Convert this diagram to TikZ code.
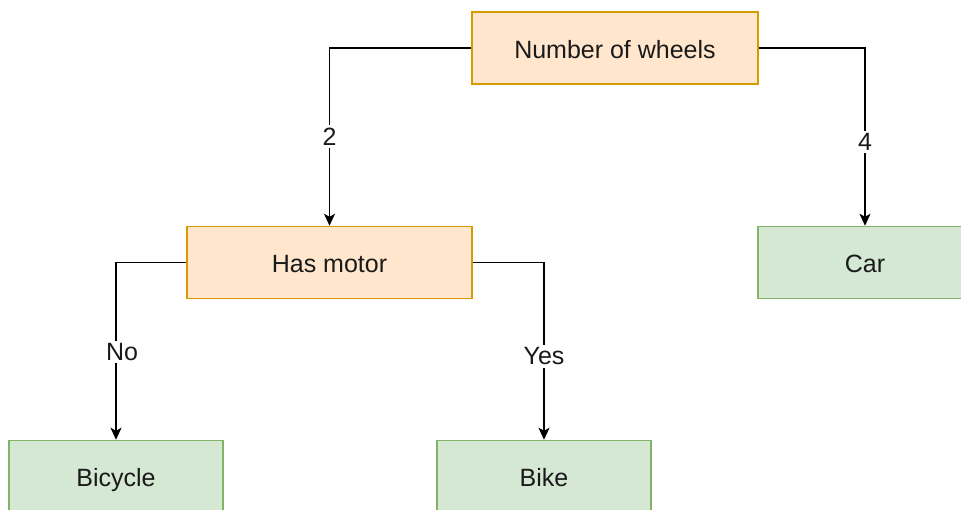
\documentclass[tikz,border=0pt]{standalone}
\usepackage{fontspec}
\setmainfont{Liberation Sans}
\usetikzlibrary{arrows.meta}
\definecolor{orfill}{HTML}{FFE6CC}
\definecolor{ordraw}{HTML}{D79B00}
\definecolor{grfill}{HTML}{D5E8D4}
\definecolor{grdraw}{HTML}{82B366}
\definecolor{txt}{HTML}{1A1A1A}
\tikzset{
  box/.style={rectangle, line width=0.75pt, inner sep=0pt, minimum height=36pt,
    text height=12pt, text depth=2pt, text=txt,
    font=\fontsize{12.5}{15}\selectfont},
  decision/.style={box, fill=orfill, draw=ordraw, minimum width=143pt},
  leaf/.style={box, fill=grfill, draw=grdraw, minimum width=107pt},
  conn/.style={line width=0.8pt, -{Stealth[length=6pt,width=5.5pt,inset=1.5pt]}},
  lbl/.style={fill=white, inner sep=1.2pt, text=txt, font=\fontsize{12.5}{15}\selectfont}
}
\begin{document}
\begin{tikzpicture}[x=0.5pt,y=-0.5pt]
\useasboundingbox (0,0) rectangle (961,509);
\clip (0,0) rectangle (961,509);
\node[decision] (num) at (615,48) {Number of wheels};
\node[decision, minimum width=142.5pt] (hm) at (329.5,262.5) {Has motor};
\node[leaf] (car) at (865,262.5) {Car};
\node[leaf] (bic) at (116,476.5) {Bicycle};
\node[leaf] (bike) at (544,476.5) {Bike};
\draw[conn] (num.west) -| node[lbl, pos=0.749] {2} (hm.north);
\draw[conn] (num.east) -| node[lbl, pos=0.763] {4} (car.north);
\draw[conn] (hm.west) -| node[lbl, pos=0.752, xshift=3pt] {No} (bic.north);
\draw[conn] (hm.east) -| node[lbl, pos=0.765] {Yes} (bike.north);
\end{tikzpicture}
\end{document}
